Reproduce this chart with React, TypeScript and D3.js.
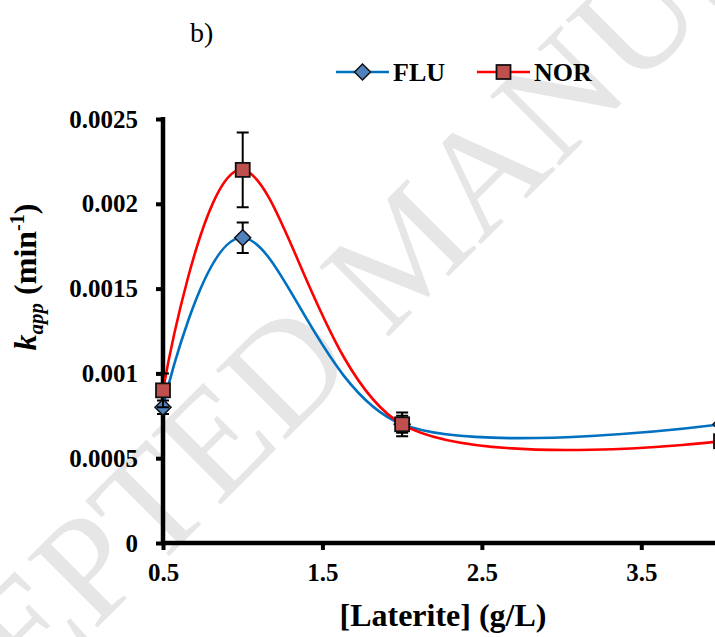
import React, { useEffect, useRef } from "react";
import * as d3 from "d3";

// laterite dose (g/L) and apparent rate constants
const concentrations = [0.5, 1, 2, 4];
const fluValues = [0.0008, 0.0018, 0.0007, 0.0007];
const fluErrors = [0.00004, 0.00009, 0.00005, 0];
const norValues = [0.0009, 0.0022, 0.0007, 0.0006];
const norErrors = [0.0001, 0.00022, 0.00007, 0];
const seriesNames = ["FLU", "NOR"];

const xTicks = [0.5, 1.5, 2.5, 3.5];
const xTickLabels = ["0.5", "1.5", "2.5", "3.5"];
const yTicks = [0, 0.0005, 0.001, 0.0015, 0.002, 0.0025];
const yTickLabels = ["0", "0.0005", "0.001", "0.0015", "0.002", "0.0025"];

const FONT = "'Liberation Serif', 'Times New Roman', serif";

export default function App() {
  const ref = useRef<SVGSVGElement>(null);

  useEffect(() => {
    const svgWidth = 715,
      svgHeight = 637;
    const svg = d3.select(ref.current).attr("width", svgWidth).attr("height", svgHeight);
    svg.selectAll("*").remove();

    // watermark
    svg
      .append("text")
      .attr("transform", "translate(440,285) rotate(-45)")
      .attr("text-anchor", "middle")
      .attr("font-family", FONT)
      .attr("font-size", 150)
      .attr("fill", "#e6e6e6")
      .text("ACCEPTED MANUSCRIPT");

    const xScale = d3.scaleLinear().domain([0.5, 4]).range([163, 721]);
    const yScale = d3.scaleLinear().domain([0, 0.0025]).range([543, 119]);

    // y axis
    const yAxis = svg
      .append("g")
      .attr("transform", "translate(163,0)")
      .call(
        d3
          .axisLeft(yScale)
          .tickValues(yTicks)
          .tickSize(7)
          .tickPadding(18)
          .tickFormat((d, i) => yTickLabels[i])
      );
    yAxis.select(".domain").remove();
    yAxis.selectAll(".tick line").attr("stroke", "#000").attr("stroke-width", 4);
    yAxis
      .selectAll(".tick text")
      .attr("font-family", FONT)
      .attr("font-weight", "bold")
      .attr("font-size", 25)
      .attr("fill", "#000");

    // x axis
    const xAxis = svg
      .append("g")
      .attr("transform", "translate(0,543)")
      .call(
        d3
          .axisBottom(xScale)
          .tickValues(xTicks)
          .tickSize(7)
          .tickFormat((d, i) => xTickLabels[i])
      );
    xAxis.select(".domain").remove();
    xAxis.selectAll(".tick line").attr("stroke", "#000").attr("stroke-width", 4);
    xAxis
      .selectAll(".tick text")
      .attr("y", 38)
      .attr("dy", 0)
      .attr("font-family", FONT)
      .attr("font-weight", "bold")
      .attr("font-size", 25)
      .attr("fill", "#000");

    svg
      .append("line")
      .attr("x1", 163)
      .attr("x2", 163)
      .attr("y1", 117)
      .attr("y2", 545)
      .attr("stroke", "#000")
      .attr("stroke-width", 4.5);
    svg
      .append("line")
      .attr("x1", 161)
      .attr("x2", 721)
      .attr("y1", 543)
      .attr("y2", 543)
      .attr("stroke", "#000")
      .attr("stroke-width", 4.5);

    const series = [
      { name: seriesNames[0], values: fluValues, errors: fluErrors, line: "#0070C0", fill: "#4F81BD", shape: "diamond" },
      { name: seriesNames[1], values: norValues, errors: norErrors, line: "#FF0000", fill: "#C0504D", shape: "square" }
    ];

    const line = d3
      .line<number>()
      .x((d, i) => xScale(concentrations[i]))
      .y(d => yScale(d))
      .curve(d3.curveCardinal.tension(0));

    const marker = (g, shape, fill, cx, cy) => {
      if (shape === "diamond") {
        g.append("path")
          .attr("d", `M${cx},${cy - 8}L${cx + 8},${cy}L${cx},${cy + 8}L${cx - 8},${cy}Z`)
          .attr("fill", fill)
          .attr("stroke", "#111")
          .attr("stroke-width", 1.5);
      } else {
        g.append("rect")
          .attr("x", cx - 7)
          .attr("y", cy - 7)
          .attr("width", 14)
          .attr("height", 14)
          .attr("fill", fill)
          .attr("stroke", "#111")
          .attr("stroke-width", 1.8);
      }
    };

    series.forEach(s => {
      svg
        .append("path")
        .attr("d", line(s.values))
        .attr("fill", "none")
        .attr("stroke", s.line)
        .attr("stroke-width", 2.6);
    });

    series.forEach(s => {
      const g = svg.append("g");
      s.values.forEach((v, i) => {
        const cx = xScale(concentrations[i]);
        const e = s.errors[i];
        if (e > 0) {
          const top = yScale(v + e),
            bot = yScale(v - e);
          g.append("path")
            .attr("d", `M${cx},${top}V${bot}M${cx - 6},${top}H${cx + 6}M${cx - 6},${bot}H${cx + 6}`)
            .attr("stroke", "#000")
            .attr("stroke-width", 2)
            .attr("fill", "none");
        }
        marker(g, s.shape, s.fill, cx, yScale(v));
      });
    });

    // legend
    const legendX = [336, 477];
    series.forEach((s, i) => {
      const lx = legendX[i];
      svg
        .append("line")
        .attr("x1", lx)
        .attr("x2", lx + 53)
        .attr("y1", 72)
        .attr("y2", 72)
        .attr("stroke", s.line)
        .attr("stroke-width", 2.6);
      marker(svg, s.shape, s.fill, lx + 26.5, 72);
      svg
        .append("text")
        .attr("x", lx + 57)
        .attr("y", 81)
        .attr("font-family", FONT)
        .attr("font-weight", "bold")
        .attr("font-size", 26)
        .text(s.name);
    });

    svg
      .append("text")
      .attr("x", 190)
      .attr("y", 42)
      .attr("font-family", FONT)
      .attr("font-size", 28)
      .text("b)");

    svg
      .append("text")
      .attr("x", 443)
      .attr("y", 626)
      .attr("text-anchor", "middle")
      .attr("font-family", FONT)
      .attr("font-weight", "bold")
      .attr("font-size", 32)
      .text("[Laterite] (g/L)");

    const yTitle = svg
      .append("text")
      .attr("transform", "translate(36,277) rotate(-90)")
      .attr("text-anchor", "middle")
      .attr("font-family", FONT)
      .attr("font-weight", "bold")
      .attr("font-size", 32);
    yTitle.append("tspan").attr("font-style", "italic").text("k");
    yTitle.append("tspan").attr("font-style", "italic").attr("font-size", 21).attr("dy", 7).text("app");
    yTitle.append("tspan").attr("dy", -7).text(" (min");
    yTitle.append("tspan").attr("font-size", 20).attr("dy", -12).text("-1");
    yTitle.append("tspan").attr("dy", 12).text(")");
  }, []);

  return (
    <div style={{ position: "absolute", left: 0, top: 0 }}>
      <svg ref={ref} style={{ display: "block" }} />
    </div>
  );
}
